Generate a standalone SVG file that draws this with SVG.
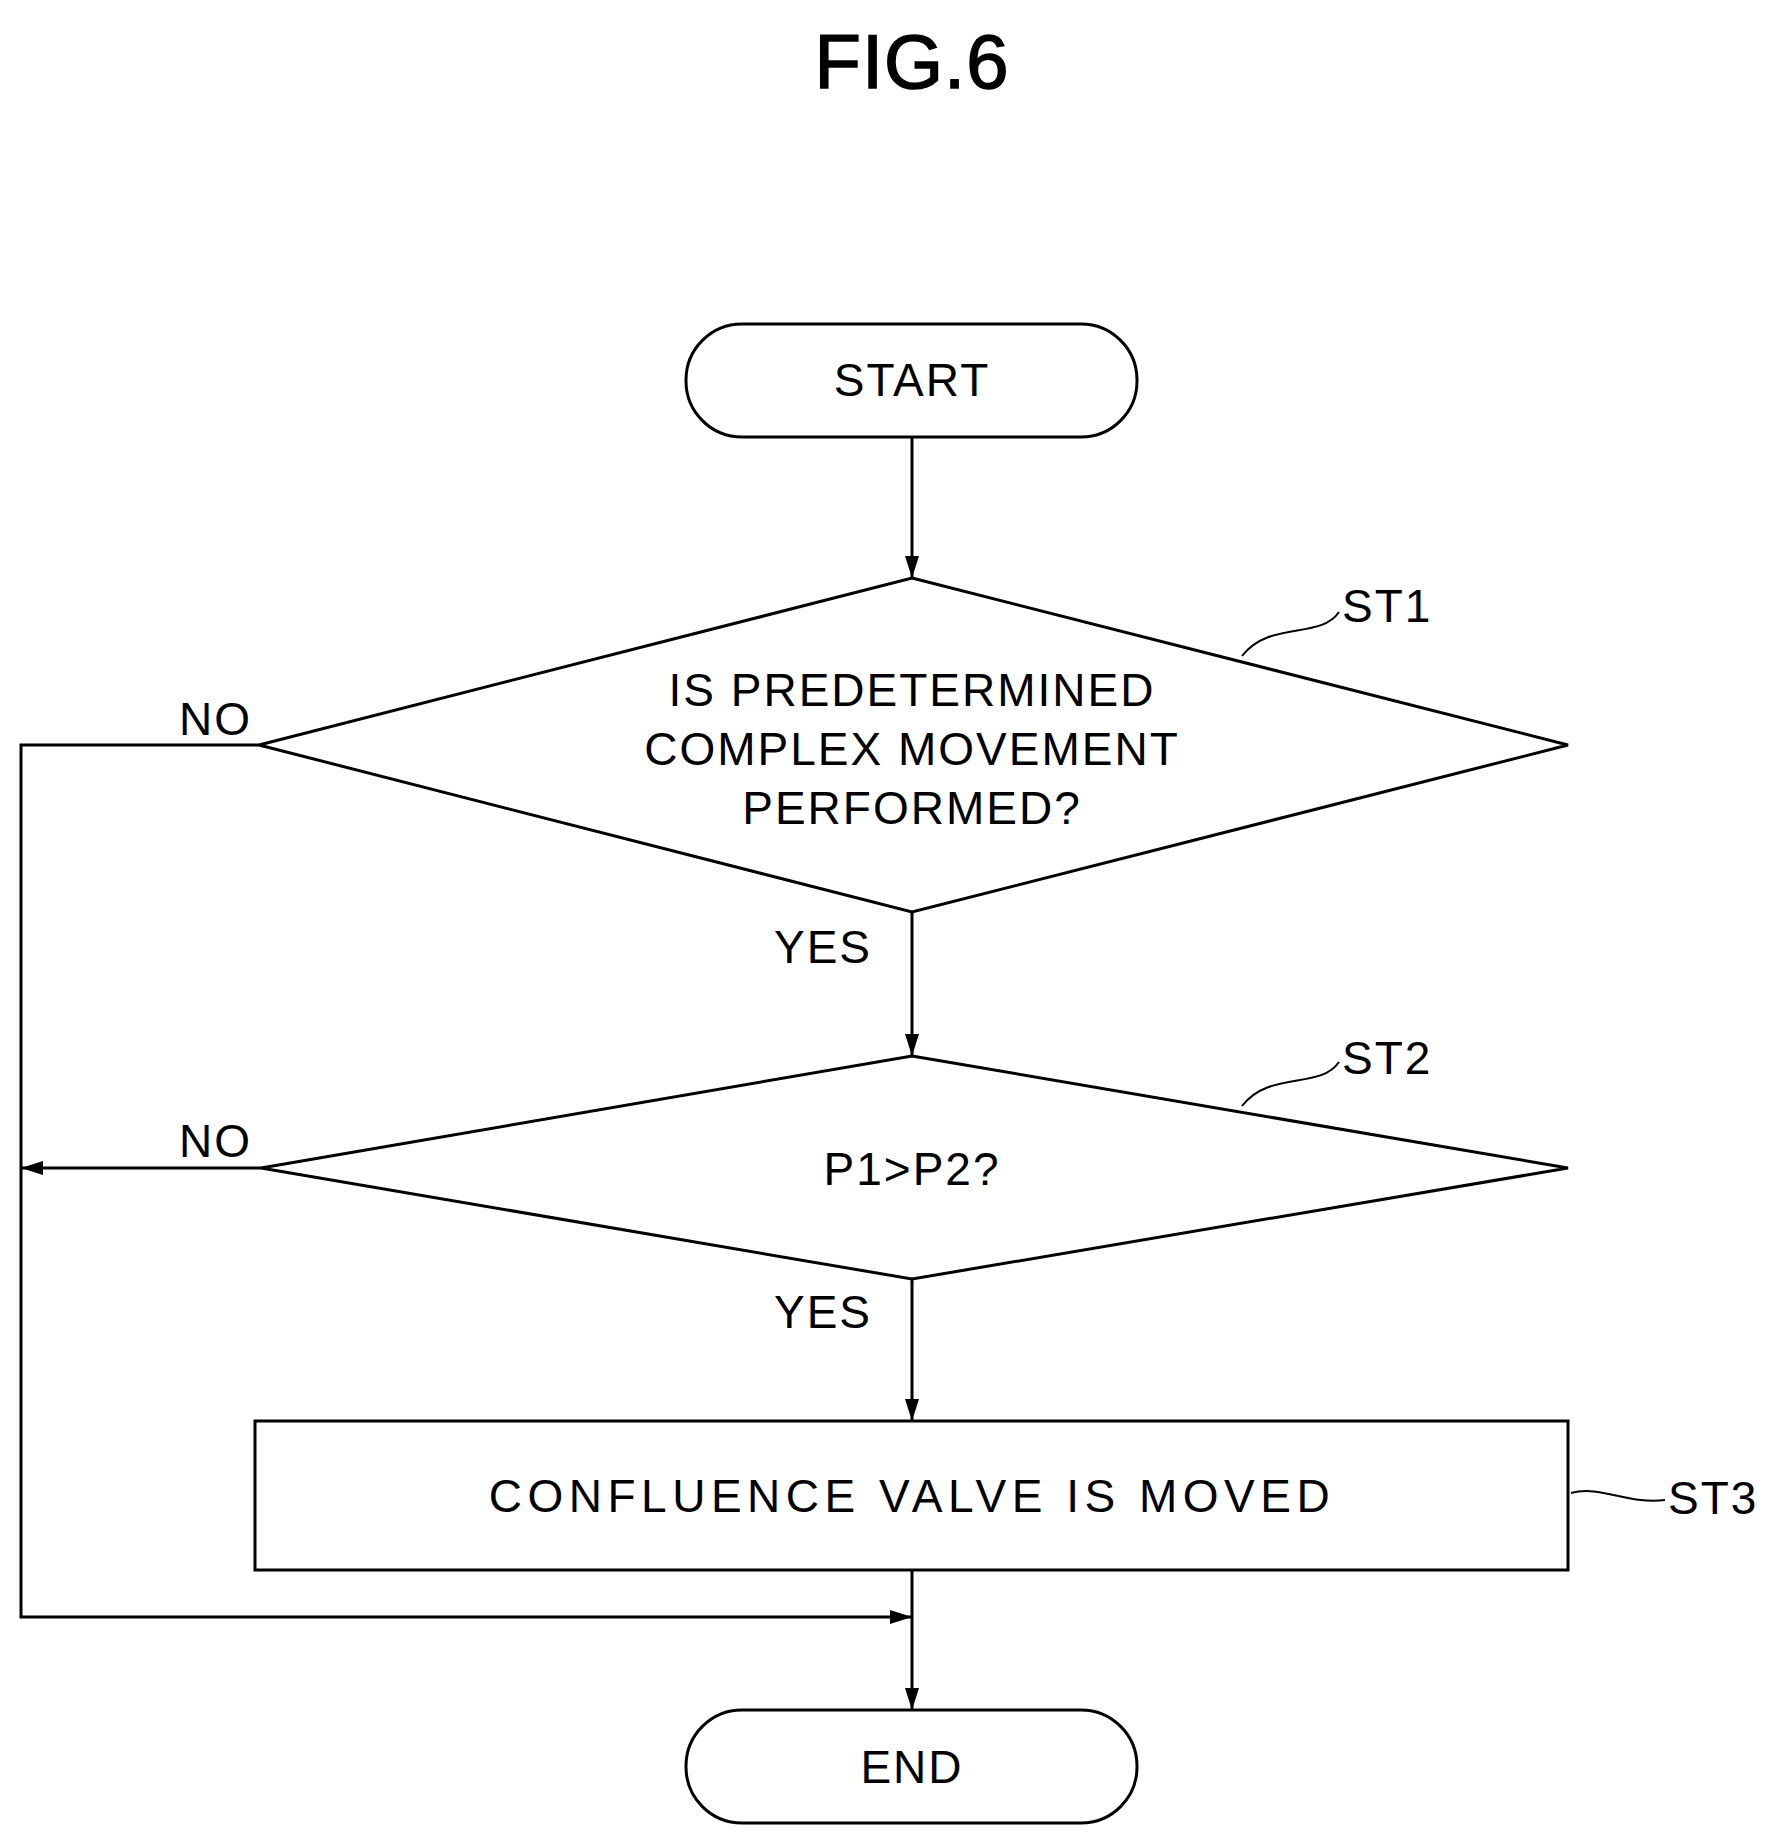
<svg xmlns="http://www.w3.org/2000/svg" width="1785" height="1846" viewBox="0 0 1785 1846">
<style>
.s{fill:none;stroke:#000;stroke-width:3}
.t{font-family:"Liberation Sans",Arial,sans-serif;font-size:46px;fill:#000;letter-spacing:2px}
.c{text-anchor:middle}
</style>
<defs><marker id="ar" viewBox="0 0 22 14" refX="22" refY="7" markerWidth="22" markerHeight="14" markerUnits="userSpaceOnUse" orient="auto"><path d="M0,0 L22,7 L0,14 z" fill="#000"/></marker></defs>
<rect width="1785" height="1846" fill="#fff"/>
<text x="912" y="88" class="t c" style="font-size:76px;letter-spacing:1px;stroke:#000;stroke-width:1.5">FIG.6</text>
<g id="start"><rect x="686" y="324" width="451" height="113" rx="56" class="s"/><text x="912" y="396" class="t c">START</text></g>
<g id="st1"><polygon points="912,578 1568,745 912,912 259,745" class="s"/>
<text x="912" y="706" class="t c">IS PREDETERMINED</text><text x="912" y="765" class="t c">COMPLEX MOVEMENT</text><text x="912" y="824" class="t c">PERFORMED?</text>
<path d="M1242,656 C1270,620 1320,640 1339,612" class="s" style="stroke-width:2"/><text x="1342" y="622" class="t">ST1</text></g>
<g id="st2"><polygon points="912,1056 1568,1168 912,1279 261,1168" class="s"/>
<text x="912" y="1185" class="t c">P1&gt;P2?</text>
<path d="M1242,1106 C1270,1070 1320,1090 1339,1062" class="s" style="stroke-width:2"/><text x="1342" y="1074" class="t">ST2</text></g>
<g id="st3"><rect x="255" y="1421" width="1313" height="149" class="s"/><text x="912" y="1512" class="t c" style="letter-spacing:5.5px">CONFLUENCE VALVE IS MOVED</text>
<path d="M1571,1493 C1600,1485 1630,1505 1665,1500" class="s" style="stroke-width:2"/><text x="1668" y="1514" class="t">ST3</text></g>
<g id="end"><rect x="686" y="1710" width="451" height="113" rx="56" class="s"/><text x="912" y="1783" class="t c">END</text></g>
<g id="connectors">
<line x1="912" y1="437" x2="912" y2="578" class="s" marker-end="url(#ar)"/>
<line x1="912" y1="912" x2="912" y2="1056" class="s" marker-end="url(#ar)"/>
<line x1="912" y1="1279" x2="912" y2="1421" class="s" marker-end="url(#ar)"/>
<line x1="912" y1="1570" x2="912" y2="1710" class="s" marker-end="url(#ar)"/>
<polyline points="259,745 21,745 21,1617 912,1617" class="s" marker-end="url(#ar)"/>
<line x1="261" y1="1168" x2="21" y2="1168" class="s" marker-end="url(#ar)"/>
<text x="179" y="735" class="t">NO</text>
<text x="179" y="1157" class="t">NO</text>
<text x="774" y="963" class="t">YES</text>
<text x="774" y="1328" class="t">YES</text>
</g>
</svg>
